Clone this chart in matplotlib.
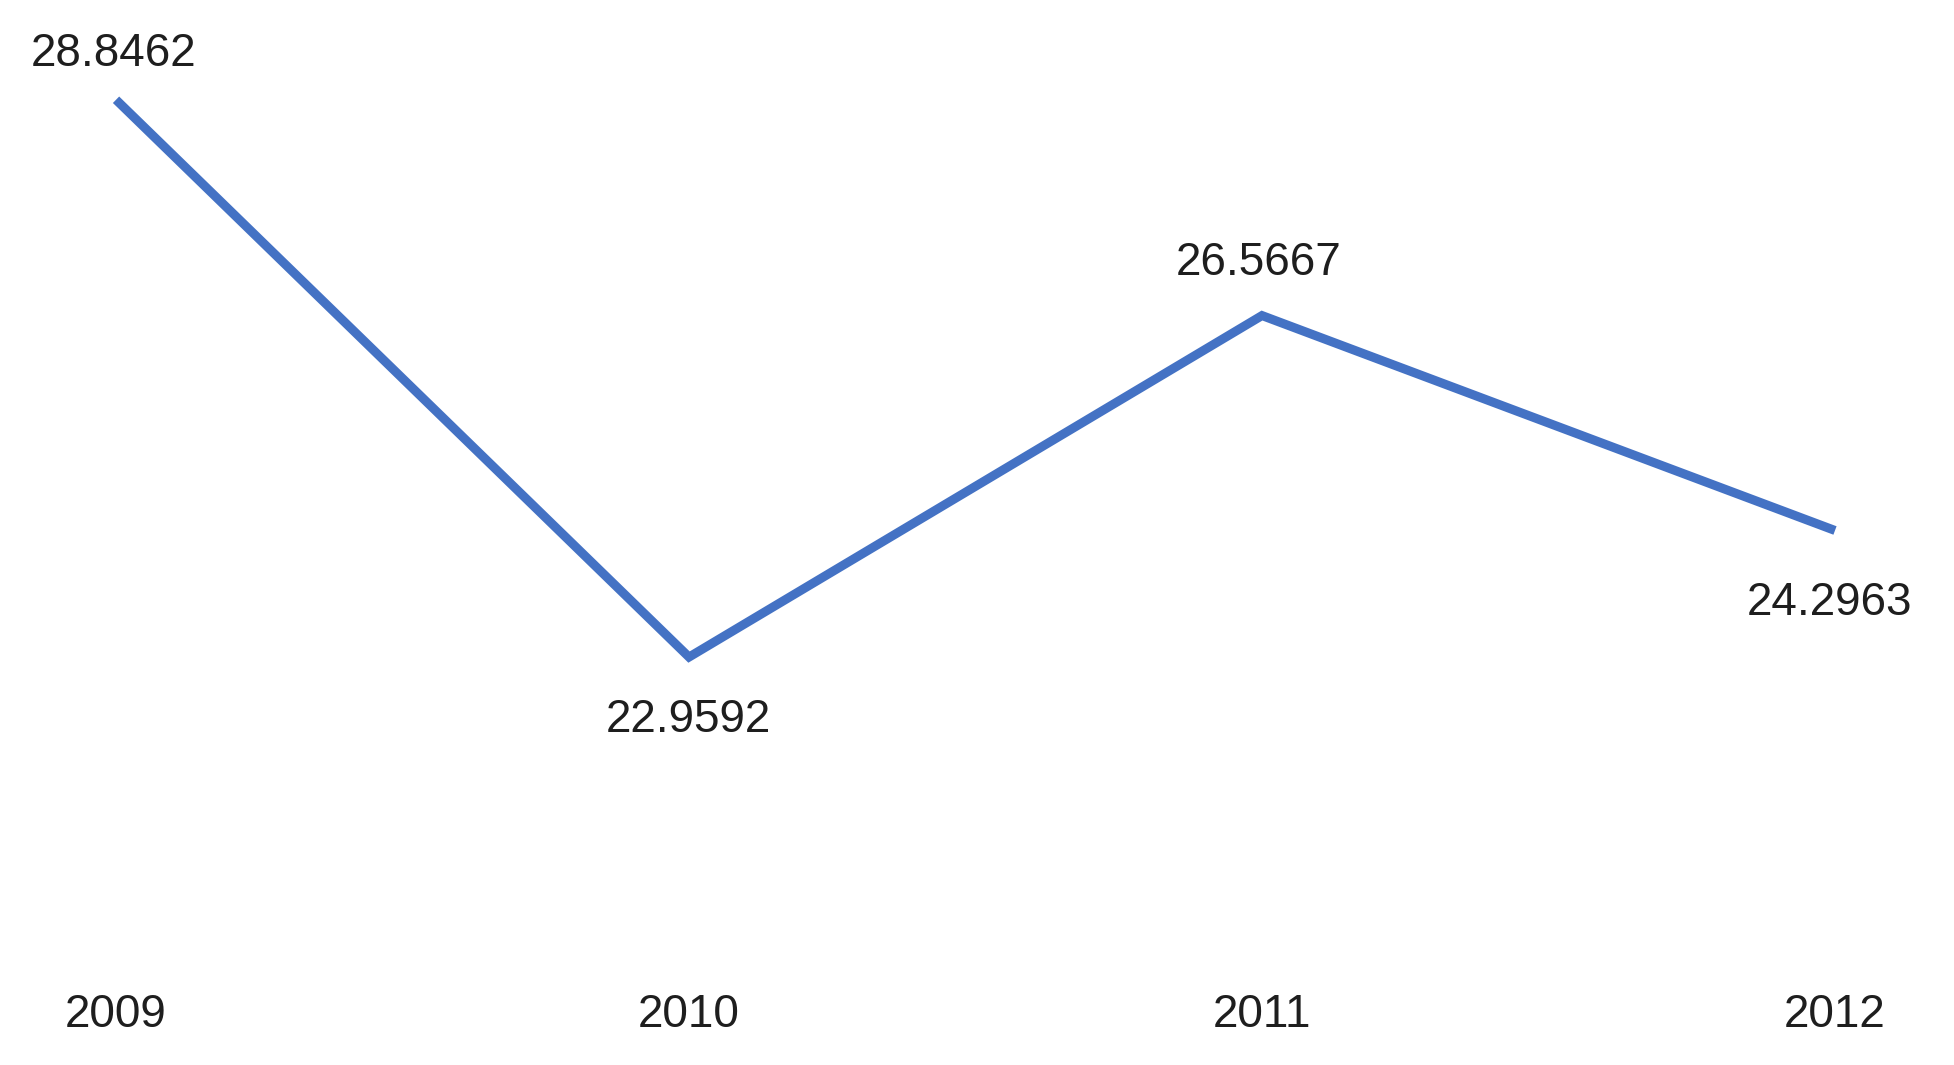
import matplotlib
matplotlib.use("Agg")
import matplotlib.pyplot as plt

years = ["2009", "2010", "2011", "2012"]
values = [28.8462, 22.9592, 26.5667, 24.2963]
labels = ["28.8462", "22.9592", "26.5667", "24.2963"]

# label offsets in pixels (dx, dy) relative to the data point
offsets_px = [(-2, 46), (-1, -63), (-3, 53), (-5, -73)]

fig = plt.figure(figsize=(19.54, 10.65), dpi=100)
ax = fig.add_axes([0, 0, 1, 1])
x = list(range(len(years)))
ax.plot(x, values, color="#4472c4", linewidth=6.5, solid_capstyle="butt", solid_joinstyle="miter")

font = dict(family=["Liberation Sans", "DejaVu Sans"], fontsize=33, color="#1e1e1e")
for xi, v, lab, (dx, dy) in zip(x, values, labels, offsets_px):
    ax.annotate(lab, (xi, v), xytext=(dx * 0.72, dy * 0.72), textcoords="offset points",
                ha="center", va="center", **font)

ax.set_xlim(-0.2025, 3.2077)
ax.set_ylim(18.65, 29.9)

# year labels along the bottom
for xi, yr in zip(x, years):
    ax.text(xi, 19.18, yr, ha="center", va="center", **font)

ax.axis("off")
fig.savefig("out.png", dpi=100, facecolor="white")
